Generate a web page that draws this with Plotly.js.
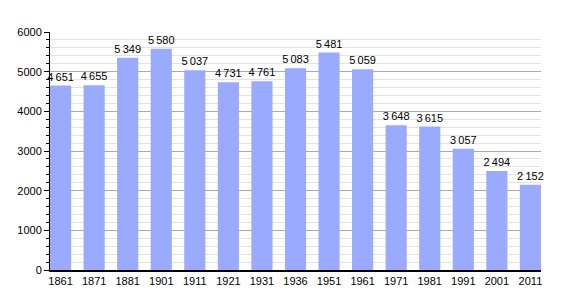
<!DOCTYPE html>
<html><head><meta charset="utf-8">
<script src="https://cdn.plot.ly/plotly-3.0.1.min.js"></script>
<style>body{margin:0;background:#fff}</style>
</head><body>
<div id="chart" style="width:570px;height:300px"></div>
<script>
var years = ["1861","1871","1881","1901","1911","1921","1931","1936","1951","1961","1971","1981","1991","2001","2011"];
var population = [4651,4655,5349,5580,5037,4731,4761,5083,5481,5059,3648,3615,3057,2494,2152];
var labels = population.map(function(v){var s=String(v);return s.length>3?s.slice(0,s.length-3)+"\u2009"+s.slice(-3):s;});
var gap = 0.37;
var data = [{
  type:"bar", x:years, y:population, text:labels, textposition:"outside",
  cliponaxis:false, constraintext:"none", marker:{color:"#99aaff", line:{width:0}},
  textfont:{family:"Liberation Sans, Arial, sans-serif", size:11, color:"#000"},
  hoverinfo:"x+y"
}];
var layout = {
  width:570, height:300, margin:{l:50,r:29,t:32,b:30},
  paper_bgcolor:"#fff", plot_bgcolor:"#fff", bargap:gap, showlegend:false,
  font:{family:"Liberation Sans, Arial, sans-serif", size:11, color:"#000"},
  xaxis:{type:"category", range:[-(1-gap)/2, years.length-1+(1-gap)/2], showline:true, linecolor:"#000", linewidth:1.5, ticks:"", showgrid:false,
    tickfont:{size:11}},
  yaxis:{range:[0,6000], dtick:1000, showline:true, linecolor:"#000", linewidth:1, ticks:"outside",
    ticklen:5, tickcolor:"#000", gridcolor:"#aaaaaa", gridwidth:1, zeroline:false,
    tickfont:{size:11},
    minor:{dtick:200, showgrid:true, gridcolor:"#e3e3e3", gridwidth:1, ticks:"outside", ticklen:3, tickcolor:"#000"}}
};
Plotly.newPlot("chart", data, layout, {displayModeBar:false, staticPlot:true});
</script>
</body></html>
